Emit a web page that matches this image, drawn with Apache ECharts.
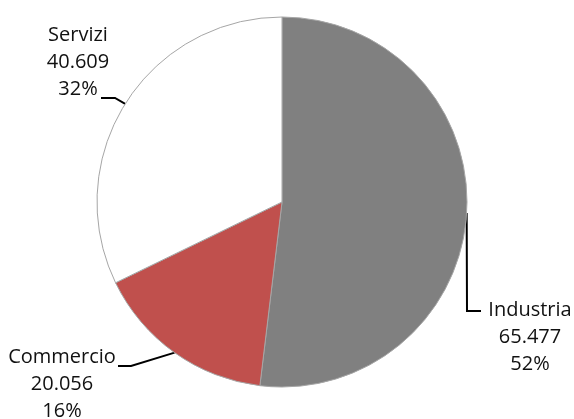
<!DOCTYPE html>
<html>
<head>
<meta charset="utf-8">
<script src="https://cdn.jsdelivr.net/npm/echarts@6/dist/echarts.min.js"></script>
<style>html,body{margin:0;padding:0;background:#fff;}#c{width:574px;height:419px;}</style>
</head>
<body>
<div id="c"></div>
<script>
const categories = ['Industria', 'Commercio', 'Servizi'];
const values = [65477, 20056, 40609];
const percents = [52, 16, 32];
const colors = ['#808080', '#C0504D', '#FFFFFF'];

// label block positions (center) and leader-line bends
const labelPos = {
  'Industria': {x: 530, y: 337, bend: [[467, 311], [481, 311]]},
  'Commercio': {x: 62, y: 384, bend: [[131, 366], [118, 366]]},
  'Servizi':   {x: 78, y: 62, bend: [[115, 98], [101, 98]]}
};

function fmt(v) {
  return String(v).replace(/\B(?=(\d{3})+(?!\d))/g, '.');
}

const chart = echarts.init(document.getElementById('c'), null, {renderer: 'canvas'});
chart.setOption({
  animation: false,
  backgroundColor: '#fff',
  series: [{
    type: 'pie',
    center: [282, 202],
    radius: 185,
    startAngle: 90,
    clockwise: true,
    data: categories.map((c, i) => ({
      name: c, value: values[i], pct: percents[i],
      itemStyle: {color: colors[i]}
    })),
    itemStyle: {borderColor: '#a6a6a6', borderWidth: 1},
    emphasis: {disabled: true},
    label: {
      show: true,
      position: 'outside',
      alignTo: 'none',
      overflow: 'none',
      formatter: p => p.name + '\n' + fmt(p.value) + '\n' + p.data.pct + '%',
      fontFamily: 'Open Sans',
      fontSize: 20,
      lineHeight: 27,
      color: '#111',
      align: 'center'
    },
    labelLine: {show: true, lineStyle: {color: '#000', width: 2}},
    labelLayout: function (params) {
      const pos = labelPos[categories[params.dataIndex]];
      const edge = params.labelLinePoints ? params.labelLinePoints[0] : [0, 0];
      return {
        x: pos.x, y: pos.y, align: 'center', verticalAlign: 'middle',
        width: 200,
        labelLinePoints: [edge, pos.bend[0], pos.bend[1]]
      };
    }
  }]
});
</script>
</body>
</html>
